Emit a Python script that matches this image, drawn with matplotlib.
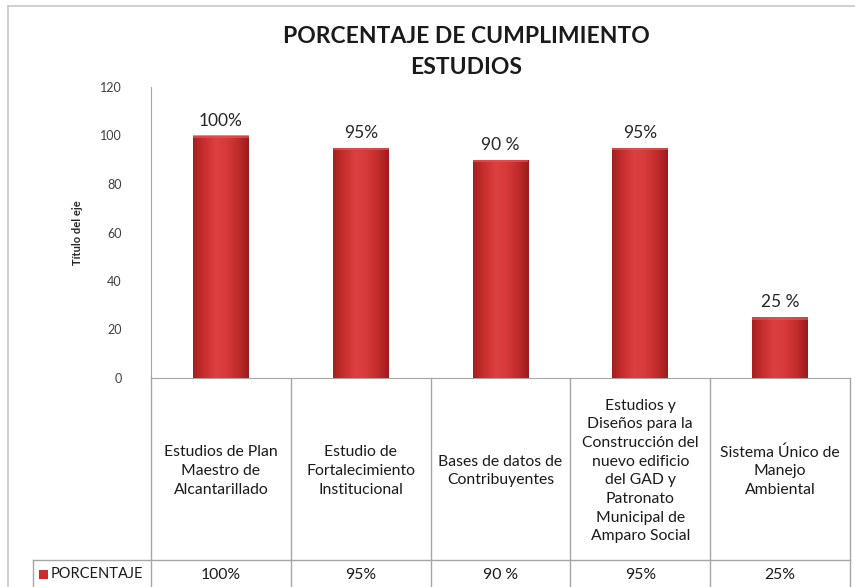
import matplotlib
matplotlib.use("Agg")
import matplotlib.pyplot as plt
import numpy as np
from matplotlib.colors import LinearSegmentedColormap
from matplotlib.lines import Line2D
from matplotlib.patches import Rectangle
import matplotlib.transforms as mtransforms

plt.rcParams['font.family'] = ['Lato', 'DejaVu Sans']

categories = [
    "Estudios de Plan\nMaestro de\nAlcantarillado",
    "Estudio de\nFortalecimiento\nInstitucional",
    "Bases de datos de\nContribuyentes",
    "Estudios y\nDiseños para la\nConstrucción del\nnuevo edificio\ndel GAD y\nPatronato\nMunicipal de\nAmparo Social",
    "Sistema Único de\nManejo\nAmbiental",
]
values = [100, 95, 90, 95, 25]
bar_labels = ["100%", "95%", "90 %", "95%", "25 %"]
table_labels = ["100%", "95%", "90 %", "95%", "25%"]
series_name = "PORCENTAJE"
title = "PORCENTAJE DE CUMPLIMIENTO\nESTUDIOS"
y_label = "Título del eje"
y_ticks = [0, 20, 40, 60, 80, 100, 120]

W, H = 855, 587
fig = plt.figure(figsize=(W / 100, H / 100), dpi=100)

def fx(px):
    return px / W

def fy(py):
    return 1 - py / H

x0, x1 = 151, 850
y0, y1 = 378, 87
ax = fig.add_axes([fx(x0), fy(y0), fx(x1) - fx(x0), fy(y1) - fy(y0)])
ax.set_xlim(-0.5, len(categories) - 0.5)
ax.set_ylim(0, 120)

grid = "#a6a6a6"
for s in ["top", "right"]:
    ax.spines[s].set_visible(False)
ax.spines["left"].set_color(grid)
ax.spines["bottom"].set_color(grid)
ax.set_xticks([])
ax.set_yticks(y_ticks)
ax.tick_params(axis='y', length=0, pad=21, labelsize=9, labelcolor="#404040")
ax.set_ylabel(y_label, fontsize=8, fontweight='bold', color="#262626", labelpad=12)

xpos = np.arange(len(categories))
bars = ax.bar(xpos, values, width=0.4, color="#d63a3a", edgecolor="none", zorder=2)

cmap = LinearSegmentedColormap.from_list(
    "cyl", ["#a41f1f", "#c92f2f", "#dc4040", "#d63a3a", "#c22c2c", "#9c1c1c"])
grad = np.linspace(0, 1, 256).reshape(1, -1)
for b in bars:
    bx, by, bw, bh = b.get_x(), b.get_y(), b.get_width(), b.get_height()
    im = ax.imshow(grad, cmap=cmap, aspect='auto', extent=(bx, bx + bw, by, by + bh),
                   zorder=3, interpolation='bilinear')
    im.set_clip_path(b)
    ax.add_patch(Rectangle((bx, by + bh - 1.0), bw, 1.0, facecolor="#e25555",
                           edgecolor="none", zorder=4, alpha=0.7))
ax.set_xlim(-0.5, len(categories) - 0.5)
ax.set_ylim(0, 120)

for xi, v, lab in zip(xpos, values, bar_labels):
    ax.annotate(lab, (xi, v), xytext=(0, 5), textcoords='offset points',
                ha='center', va='bottom', fontsize=12.5, color="#262626")

# data table below axes
trans = mtransforms.blended_transform_factory(ax.transData, ax.transAxes)
ah = y0 - y1

def ay(py):
    return (y0 - py) / ah

row_div = 560
bottom = 590
for b in np.arange(-0.5, len(categories) + 0.5, 1.0):
    ax.add_line(Line2D([b, b], [ay(y0), ay(bottom)], transform=trans, color=grid,
                       lw=1, clip_on=False))
ax.add_line(Line2D([-0.5, len(categories) - 0.5], [ay(row_div), ay(row_div)],
                   transform=trans, color=grid, lw=1, clip_on=False))
for xi, cat, tl in zip(xpos, categories, table_labels):
    ax.text(xi, ay((y0 + row_div) / 2 + 2), cat, transform=trans, ha='center',
            va='center', fontsize=11.3, linespacing=1.42, color="#1a1a1a", clip_on=False)
    ax.text(xi, ay(575), tl, transform=trans, ha='center', va='center',
            fontsize=11.3, color="#1a1a1a", clip_on=False)

# left header cell
fig.add_artist(Line2D([fx(33), fx(x0)], [fy(row_div), fy(row_div)], color=grid, lw=1))
fig.add_artist(Line2D([fx(33), fx(33)], [fy(row_div), fy(bottom)], color=grid, lw=1))
fig.add_artist(Rectangle((fx(39), fy(579)), fx(9), 9 / H, facecolor="#c62d2d",
                         edgecolor="none"))
fig.text(fx(51), fy(574), series_name, ha='left', va='center', fontsize=10.5,
         color="#1a1a1a")

# outer chart border
fig.add_artist(Line2D([fx(8), fx(8)], [fy(6), fy(590)], color="#c8c8c8", lw=1.2))
fig.add_artist(Line2D([fx(8), fx(860)], [fy(6), fy(6)], color="#c8c8c8", lw=1.2))

fig.text(fx(466), fy(52), title, ha='center', va='center', fontsize=16.5,
         fontweight='bold', color="#1a1a1a", linespacing=1.55)

fig.savefig("out.png", dpi=100)
